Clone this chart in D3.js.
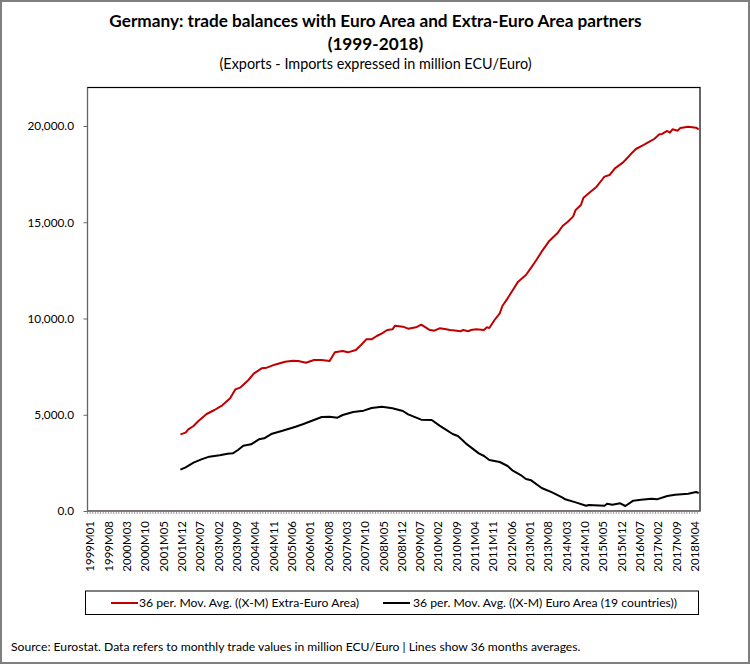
<!DOCTYPE html>
<html>
<head>
<meta charset="utf-8">
<script src="https://cdn.jsdelivr.net/npm/d3@7"></script>
<style>
  html, body { margin: 0; padding: 0; background: #fff; }
  svg { display: block; font-family: Lato, sans-serif; fill: #000; }
</style>
</head>
<body>
<svg width="750" height="664"></svg>
<script>
const YEARS = d3.range(1999, 2019);
const MONTHS = YEARS.flatMap((y) =>
  d3.range(1, 13).map((m) => `${y}M${String(m).padStart(2, '0')}`)
).slice(0, 234);
const Y_TICKS = [0, 5000, 10000, 15000, 20000];

const EXTRA_MONTHS = [
  '2001M12', '2002M02', '2002M03', '2002M05', '2002M07', '2002M10', '2003M01', '2003M04', '2003M07', '2003M09',
  '2003M11', '2004M02', '2004M04', '2004M07', '2004M09', '2004M12', '2005M04', '2005M07', '2005M09', '2005M12',
  '2006M03', '2006M06', '2006M09', '2006M11', '2007M02', '2007M04', '2007M07', '2007M09', '2007M11', '2008M01',
  '2008M03', '2008M05', '2008M07', '2008M09', '2008M10', '2009M01', '2009M03', '2009M06', '2009M08', '2009M11',
  '2010M01', '2010M03', '2010M05', '2010M07', '2010M08', '2010M11', '2010M12', '2011M02', '2011M03', '2011M05',
  '2011M08', '2011M09', '2011M10', '2011M12', '2012M02', '2012M03', '2012M05', '2012M07', '2012M09', '2012M12',
  '2013M02', '2013M04', '2013M06', '2013M09', '2013M12', '2014M02', '2014M04', '2014M06', '2014M07', '2014M09',
  '2014M10', '2014M12', '2015M03', '2015M05', '2015M06', '2015M08', '2015M10', '2016M01', '2016M02', '2016M04',
  '2016M06', '2016M09', '2016M11', '2017M01', '2017M03', '2017M04', '2017M06', '2017M07', '2017M08', '2017M10',
  '2017M11', '2018M02', '2018M05', '2018M06',
];
const EXTRA_VALUES = [
  3982, 4069, 4242, 4415, 4692, 5039, 5246, 5489, 5853, 6320,
  6424, 6805, 7134, 7411, 7446, 7601, 7757, 7809, 7792, 7705,
  7844, 7844, 7792, 8242, 8311, 8242, 8363, 8623, 8918, 8918,
  9091, 9229, 9402, 9437, 9628, 9576, 9472, 9541, 9680, 9420,
  9368, 9489, 9454, 9402, 9385, 9333, 9403, 9333, 9403, 9437,
  9403, 9541, 9507, 9922, 10269, 10650, 11048, 11481, 11914, 12260,
  12641, 13039, 13472, 14044, 14425, 14806, 15031, 15291, 15637, 15897,
  16278, 16503, 16849, 17195, 17369, 17455, 17801, 18096, 18234, 18529,
  18806, 19014, 19170, 19325, 19568, 19585, 19741, 19654, 19828, 19758,
  19897, 19966, 19914, 19828,
];

const EURO_MONTHS = [
  '2001M12', '2002M02', '2002M05', '2002M08', '2002M11', '2003M03', '2003M06', '2003M08', '2003M10', '2003M12',
  '2004M03', '2004M06', '2004M08', '2004M11', '2005M03', '2005M08', '2005M11', '2006M03', '2006M06', '2006M09',
  '2006M12', '2007M02', '2007M06', '2007M10', '2008M01', '2008M05', '2008M09', '2009M01', '2009M03', '2009M08',
  '2009M12', '2010M03', '2010M06', '2010M08', '2010M10', '2010M12', '2011M01', '2011M03', '2011M06', '2011M08',
  '2011M10', '2012M02', '2012M05', '2012M07', '2012M10', '2012M12', '2013M02', '2013M06', '2013M10', '2014M02',
  '2014M03', '2014M07', '2014M11', '2014M12', '2015M06', '2015M07', '2015M09', '2015M12', '2016M02', '2016M05',
  '2016M08', '2016M12', '2017M02', '2017M06', '2017M09', '2018M02', '2018M05', '2018M06',
];
const EURO_VALUES = [
  2147, 2268, 2510, 2683, 2822, 2891, 2978, 2995, 3168, 3393,
  3463, 3722, 3774, 4017, 4173, 4380, 4519, 4727, 4883, 4900,
  4848, 4987, 5143, 5212, 5350, 5420, 5333, 5194, 5021, 4744,
  4727, 4433, 4173, 3999, 3896, 3653, 3515, 3307, 2995, 2857,
  2649, 2545, 2337, 2095, 1870, 1662, 1593, 1194, 969, 692,
  606, 450, 276, 311, 276, 380, 328, 398, 259, 536,
  588, 640, 605, 779, 848, 900, 987, 935,
];

const LEFT = 87.5;
const RIGHT = 700;
const TOP = 87.5;
const BOTTOM = 511;

const xScale = d3.scaleBand().domain(MONTHS).range([LEFT, RIGHT]);
const yScale = d3.scaleLinear().domain([0, 20000]).range([BOTTOM, 126]);
const step = xScale.step();

const svg = d3.select('svg');

// outer frame
svg.append('rect')
  .attr('x', 1).attr('y', 1).attr('width', 748).attr('height', 662)
  .attr('fill', '#fff').attr('stroke', '#7f7f7f').attr('stroke-width', 2);

// titles
const centerText = (str, y, size, weight) =>
  svg.append('text')
    .attr('x', 375.5).attr('y', y)
    .attr('text-anchor', 'middle')
    .attr('font-size', size).attr('font-weight', weight)
    .text(str);
centerText('Germany: trade balances with Euro Area and Extra-Euro Area partners', 27, 17.2, 700);
centerText('(1999-2018)', 50, 17.2, 700);
centerText('(Exports - Imports expressed in million ECU/Euro)', 69, 14.4, 400);

// plot box
svg.append('rect')
  .attr('x', LEFT).attr('y', TOP)
  .attr('width', RIGHT - LEFT).attr('height', BOTTOM - TOP)
  .attr('fill', '#fff').attr('stroke', '#000').attr('stroke-width', 1.2);

// month ticks, every month on band edge
const minorAxis = svg.append('g')
  .attr('transform', `translate(${-step / 2},${BOTTOM})`)
  .call(d3.axisBottom(xScale).tickSize(3).tickFormat(''));
minorAxis.select('.domain').remove();
minorAxis.selectAll('line').attr('stroke', '#8c8088').attr('stroke-width', 0.8);

// labels, every seventh month
const xAxis = svg.append('g')
  .attr('transform', `translate(1.5,${BOTTOM})`)
  .call(d3.axisBottom(xScale)
    .tickValues(MONTHS.filter((m, i) => i % 7 === 0))
    .tickSize(0));
xAxis.select('.domain').remove();
xAxis.selectAll('text')
  .attr('font-family', 'Lato, sans-serif').attr('font-size', 11.5).attr('fill', '#000')
  .attr('transform', 'rotate(-90)')
  .attr('text-anchor', 'end')
  .attr('x', -10).attr('y', 0).attr('dy', '0.35em');

const yAxis = svg.append('g')
  .attr('transform', `translate(${LEFT},0)`)
  .call(d3.axisLeft(yScale).tickValues(Y_TICKS).tickFormat(d3.format(',.1f')).tickSize(4).tickPadding(9.5));
yAxis.select('.domain').attr('d', `M0,${TOP}V${BOTTOM + 0.5}`).attr('stroke', '#666');
yAxis.selectAll('line').attr('stroke', '#666');
yAxis.selectAll('text').attr('font-family', 'Lato, sans-serif').attr('font-size', 11.8).attr('fill', '#000');

// bottom axis line
svg.append('line')
  .attr('x1', LEFT).attr('x2', RIGHT).attr('y1', BOTTOM).attr('y2', BOTTOM)
  .attr('stroke', '#8c8088').attr('stroke-width', 1);

// series
const line = d3.line()
  .x((d) => xScale(d.month) + step / 2)
  .y((d) => yScale(d.value));
const pair = (months, values) => months.map((month, i) => ({ month, value: values[i] }));

svg.append('path')
  .datum(pair(EXTRA_MONTHS, EXTRA_VALUES))
  .attr('fill', 'none').attr('stroke', '#c00000').attr('stroke-width', 2)
  .attr('stroke-linejoin', 'round')
  .attr('d', line);
svg.append('path')
  .datum(pair(EURO_MONTHS, EURO_VALUES))
  .attr('fill', 'none').attr('stroke', '#000').attr('stroke-width', 2)
  .attr('stroke-linejoin', 'round')
  .attr('d', line);

// legend
svg.append('rect')
  .attr('x', 85.5).attr('y', 591)
  .attr('width', 613).attr('height', 23.5)
  .attr('fill', '#fff').attr('stroke', '#000').attr('stroke-width', 1);
const legendItems = [
  { x: 111, textX: 139, color: '#c00000', label: '36 per. Mov. Avg. ((X-M) Extra-Euro Area)' },
  { x: 383, textX: 413, color: '#000', label: '36 per. Mov. Avg. ((X-M) Euro Area (19 countries))' },
];
legendItems.forEach((item) => {
  svg.append('line')
    .attr('x1', item.x).attr('x2', item.x + 27).attr('y1', 603).attr('y2', 603)
    .attr('stroke', item.color).attr('stroke-width', 2);
  svg.append('text')
    .attr('x', item.textX).attr('y', 607)
    .attr('font-size', 12.2)
    .text(item.label);
});

// source
svg.append('text')
  .attr('x', 11).attr('y', 651)
  .attr('font-size', 12.15)
  .text('Source: Eurostat. Data refers to monthly trade values in million ECU/Euro | Lines show 36 months averages.');
</script>
</body>
</html>
